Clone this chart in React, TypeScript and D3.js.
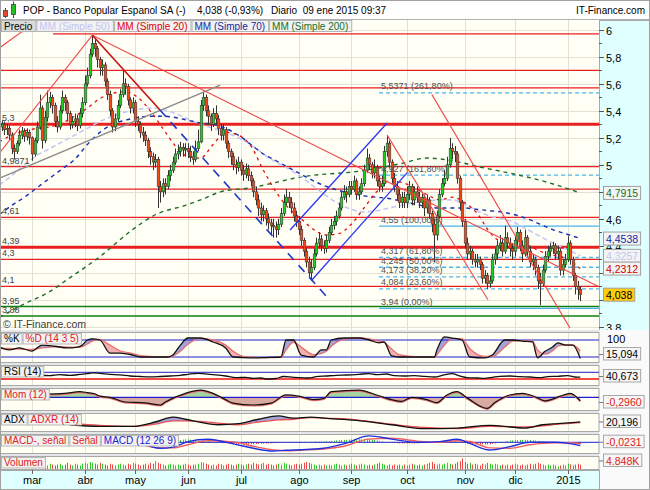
import { useEffect, useRef } from 'react';
import * as d3 from 'd3';

// market calendar (Madrid): weekdays minus exchange holidays
const holidays = ['2014-04-18', '2014-04-21', '2014-05-01', '2014-12-25', '2014-12-26', '2015-01-01'];
const monthStarts = ['2014-03-01', '2014-04-01', '2014-05-01', '2014-06-01', '2014-07-01', '2014-08-01',
  '2014-09-01', '2014-10-01', '2014-11-01', '2014-12-01', '2015-01-01'];
const monthLabels = ['mar', 'abr', 'may', 'jun', 'jul', 'ago', 'sep', 'oct', 'nov', 'dic', '2015'];

// daily prices, 12 feb 2014 -> 09 ene 2015
const closes = [
  5.28, 5.30, 5.26, 5.27, 5.22, 5.12, 5.10, 5.16, 5.22, 5.25, 5.21, 5.24, 5.20,
  5.08, 5.18, 5.28, 5.42, 5.18, 5.35, 5.46, 5.50, 5.44, 5.32, 5.28, 5.40, 5.50, 5.46, 5.38, 5.30, 5.32, 5.34, 5.29, 5.38, 5.46,
  5.60, 5.66, 5.82, 5.90, 5.86, 5.78, 5.72, 5.74, 5.62, 5.52, 5.40, 5.28, 5.34, 5.44, 5.52, 5.60, 5.58, 5.48, 5.42, 5.46,
  5.32, 5.30, 5.24, 5.22, 5.18, 5.10, 5.06, 5.02, 5.04, 4.84, 4.80, 4.86, 4.84, 4.92, 4.96, 5.02, 5.08, 5.10, 5.13, 5.11, 5.12,
  5.10, 5.06, 5.04, 5.12, 5.17, 5.44, 5.50, 5.40, 5.36, 5.30, 5.38, 5.34, 5.27, 5.22, 5.26, 5.16, 5.10, 5.06, 5.00, 4.98, 5.02,
  4.96, 4.93, 4.97, 4.92, 4.88, 4.80, 4.74, 4.68, 4.63, 4.66, 4.60, 4.57, 4.55, 4.54, 4.52, 4.56, 4.64, 4.72, 4.76, 4.72, 4.68, 4.62, 4.58,
  4.52, 4.44, 4.36, 4.28, 4.20, 4.24, 4.34, 4.42, 4.45, 4.40, 4.38, 4.44, 4.50, 4.55, 4.58, 4.62, 4.68, 4.76, 4.80, 4.78, 4.84,
  4.82, 4.88, 4.78, 4.80, 4.86, 4.96, 5.05, 5.00, 4.94, 4.98, 4.88, 4.84, 4.86, 5.10, 5.16, 5.02, 4.90, 4.84, 4.78, 4.72, 4.76, 4.72,
  4.78, 4.84, 4.74, 4.80, 4.76, 4.72, 4.76, 4.68, 4.74, 4.64, 4.56, 4.48, 4.62, 4.78, 4.86, 4.90, 5.00, 5.12, 5.10, 5.08, 4.90, 4.72, 4.58,
  4.42, 4.34, 4.36, 4.30, 4.28, 4.30, 4.26, 4.16, 4.18, 4.12, 4.14, 4.30, 4.34, 4.40, 4.42, 4.36, 4.46, 4.42, 4.38, 4.36,
  4.44, 4.50, 4.40, 4.34, 4.46, 4.36, 4.28, 4.30, 4.24, 4.14, 4.12, 4.22, 4.32, 4.36, 4.38, 4.40, 4.34, 4.36, 4.22, 4.26, 4.30,
  4.42, 4.30, 4.18, 4.10, 4.076, 4.038,
];
const highs = [
  5.32, 5.33, 5.32, 5.30, 5.29, 5.24, 5.15, 5.18, 5.26, 5.28, 5.27, 5.27, 5.26,
  5.21, 5.20, 5.32, 5.52, 5.44, 5.40, 5.55, 5.54, 5.52, 5.46, 5.36, 5.44, 5.55, 5.52, 5.48, 5.40, 5.36, 5.38, 5.37, 5.42, 5.50,
  5.66, 5.72, 5.86, 5.96, 5.93, 5.88, 5.80, 5.78, 5.76, 5.64, 5.55, 5.42, 5.38, 5.48, 5.56, 5.70, 5.64, 5.60, 5.50, 5.50,
  5.48, 5.36, 5.32, 5.28, 5.25, 5.20, 5.13, 5.09, 5.08, 5.06, 4.88, 4.90, 4.90, 4.96, 5.00, 5.06, 5.12, 5.15, 5.17, 5.16, 5.16,
  5.16, 5.14, 5.10, 5.18, 5.26, 5.48, 5.54, 5.52, 5.44, 5.38, 5.42, 5.44, 5.37, 5.30, 5.30, 5.28, 5.18, 5.12, 5.09, 5.04, 5.06,
  5.04, 5.00, 5.01, 5.00, 4.95, 4.90, 4.84, 4.78, 4.72, 4.70, 4.68, 4.64, 4.60, 4.60, 4.58, 4.60, 4.68, 4.78, 4.82, 4.80, 4.76, 4.72, 4.66,
  4.62, 4.55, 4.46, 4.38, 4.32, 4.30, 4.38, 4.46, 4.50, 4.48, 4.44, 4.48, 4.54, 4.60, 4.62, 4.66, 4.72, 4.80, 4.85, 4.84, 4.88,
  4.88, 4.92, 4.90, 4.84, 4.90, 5.00, 5.12, 5.08, 5.02, 5.04, 5.00, 4.92, 4.92, 5.14, 5.22, 5.18, 5.04, 4.94, 4.88, 4.82, 4.80, 4.80,
  4.84, 4.88, 4.86, 4.84, 4.84, 4.80, 4.80, 4.78, 4.78, 4.76, 4.66, 4.60, 4.66, 4.82, 4.90, 4.96, 5.06, 5.20, 5.16, 5.14, 5.10, 4.92, 4.74,
  4.60, 4.46, 4.40, 4.38, 4.34, 4.34, 4.32, 4.28, 4.22, 4.20, 4.18, 4.34, 4.38, 4.44, 4.48, 4.46, 4.55, 4.50, 4.46, 4.42,
  4.48, 4.54, 4.52, 4.44, 4.52, 4.48, 4.40, 4.34, 4.32, 4.26, 4.20, 4.26, 4.36, 4.40, 4.42, 4.43, 4.42, 4.40, 4.38, 4.30, 4.34,
  4.47, 4.44, 4.32, 4.20, 4.14, 4.10,
];
const lows = [
  5.24, 5.25, 5.22, 5.22, 5.18, 5.08, 5.04, 5.08, 5.14, 5.19, 5.17, 5.18, 5.15,
  5.03, 5.06, 5.16, 5.26, 5.12, 5.16, 5.32, 5.42, 5.38, 5.28, 5.24, 5.26, 5.38, 5.40, 5.32, 5.26, 5.27, 5.28, 5.25, 5.27, 5.35,
  5.44, 5.58, 5.64, 5.80, 5.80, 5.72, 5.66, 5.66, 5.58, 5.48, 5.36, 5.24, 5.25, 5.32, 5.42, 5.50, 5.52, 5.44, 5.38, 5.38,
  5.28, 5.25, 5.20, 5.17, 5.14, 5.05, 5.00, 4.96, 4.98, 4.68, 4.72, 4.76, 4.78, 4.82, 4.88, 4.94, 5.00, 5.04, 5.06, 5.06, 5.06,
  5.05, 5.02, 5.00, 5.02, 5.10, 5.16, 5.40, 5.36, 5.30, 5.25, 5.28, 5.30, 5.22, 5.18, 5.18, 5.12, 5.05, 5.00, 4.96, 4.93, 4.95,
  4.92, 4.88, 4.90, 4.88, 4.84, 4.76, 4.70, 4.62, 4.58, 4.58, 4.55, 4.52, 4.48, 4.46, 4.46, 4.48, 4.54, 4.62, 4.70, 4.68, 4.64, 4.58, 4.54,
  4.48, 4.40, 4.32, 4.24, 4.16, 4.14, 4.22, 4.32, 4.38, 4.36, 4.34, 4.35, 4.42, 4.48, 4.52, 4.55, 4.60, 4.66, 4.74, 4.72, 4.76,
  4.78, 4.80, 4.74, 4.74, 4.78, 4.84, 4.94, 4.96, 4.90, 4.90, 4.84, 4.80, 4.80, 4.84, 5.06, 4.98, 4.86, 4.80, 4.74, 4.68, 4.68, 4.68,
  4.68, 4.74, 4.70, 4.70, 4.72, 4.68, 4.68, 4.62, 4.64, 4.60, 4.50, 4.28, 4.44, 4.60, 4.76, 4.84, 4.88, 4.98, 5.04, 5.02, 4.86, 4.66, 4.54,
  4.38, 4.30, 4.30, 4.26, 4.24, 4.24, 4.22, 4.12, 4.12, 4.08, 4.09, 4.12, 4.26, 4.30, 4.36, 4.32, 4.34, 4.38, 4.32, 4.30,
  4.32, 4.40, 4.36, 4.28, 4.32, 4.32, 4.24, 4.22, 4.18, 4.08, 3.96, 4.10, 4.20, 4.28, 4.32, 4.34, 4.30, 4.30, 4.18, 4.18, 4.24,
  4.28, 4.26, 4.14, 4.04, 4.00, 3.99,
];
const firstOpen = 5.26;

// volume in K, starting on trading day 18
const volumeStart = 18;
const volumes = [
  5, 4, 6, 5, 4, 5, 6, 4, 5, 7, 5, 4, 6, 5, 4, 6, 7, 6, 8, 7,
  6, 5, 7, 6, 5, 4, 6, 5, 4, 5, 6, 5, 4, 6, 5, 7, 6, 5, 4, 5,
  6, 5, 7, 6, 9, 7, 6, 5, 4, 5, 6, 5, 4, 5, 4, 5, 6, 5, 4, 5,
  5, 6, 8, 7, 6, 5, 4, 5, 4, 6, 5, 4, 5, 6, 5, 4, 5, 6, 5, 4,
  5, 6, 5, 7, 6, 5, 6, 7, 5, 6, 5, 4, 5, 6, 5, 7, 6, 5, 4, 5,
  6, 5, 6, 7, 8, 7, 6, 5, 4, 5, 4, 5, 4, 5, 4, 5, 6, 5, 4, 5,
  4, 5, 6, 5, 4, 5, 6, 5, 4, 5, 4, 5, 6, 7, 6, 5, 4, 5, 4, 5,
  4, 5, 4, 5, 4, 5, 6, 5, 4, 5, 4, 5, 6, 7, 8, 6, 5, 6, 5, 6,
  7, 6, 5, 6, 8, 9, 12, 8, 6, 7, 5, 6, 5, 4, 6, 5, 7, 6, 5, 6,
  5, 4, 5, 4, 5, 4, 5, 6, 5, 4, 5, 4, 5, 6, 5, 6, 7, 6, 5, 4,
  5, 4, 5, 4, 3, 4, 5, 4, 6, 5, 4, 5, 6, 4.848,
];

// moving averages, [trading day, value]
const ma20 = [[0, 5.17], [5, 5.22], [10, 5.25], [15, 5.27], [20, 5.28], [25, 5.31], [30, 5.36], [35, 5.42], [40, 5.49], [45, 5.53],
  [50, 5.54], [55, 5.50], [60, 5.40], [65, 5.27], [70, 5.14], [75, 5.06], [80, 5.05], [85, 5.15], [90, 5.24], [95, 5.22],
  [100, 5.14], [105, 4.96], [110, 4.80], [115, 4.68], [120, 4.60], [125, 4.52], [130, 4.48], [135, 4.49], [140, 4.56], [145, 4.68],
  [150, 4.80], [155, 4.88], [160, 4.87], [165, 4.83], [170, 4.78], [175, 4.74], [180, 4.76], [185, 4.72], [190, 4.64], [195, 4.50],
  [200, 4.42], [205, 4.38], [210, 4.40], [215, 4.36], [220, 4.33], [225, 4.31], [231, 4.2312]];
const ma50 = [[0, 4.85], [5, 4.92], [10, 5.00], [15, 5.07], [20, 5.12], [25, 5.17], [30, 5.22], [35, 5.27], [40, 5.32], [45, 5.36],
  [50, 5.39], [55, 5.41], [60, 5.42], [65, 5.41], [70, 5.38], [75, 5.34], [80, 5.30], [85, 5.27], [90, 5.24], [95, 5.20],
  [100, 5.15], [105, 5.08], [110, 5.02], [115, 4.97], [120, 4.91], [125, 4.84], [130, 4.77], [135, 4.71], [140, 4.67], [145, 4.65],
  [150, 4.66], [155, 4.68], [160, 4.70], [165, 4.72], [170, 4.73], [175, 4.74], [180, 4.74], [185, 4.71], [190, 4.66], [195, 4.62],
  [200, 4.60], [205, 4.57], [210, 4.52], [215, 4.47], [220, 4.42], [225, 4.38], [231, 4.3257]];
const ma70 = [[0, 4.63], [5, 4.70], [10, 4.76], [15, 4.83], [20, 4.90], [25, 4.97], [30, 5.04], [35, 5.15], [40, 5.24], [45, 5.30],
  [50, 5.33], [55, 5.35], [60, 5.36], [65, 5.36], [70, 5.35], [75, 5.33], [80, 5.31], [85, 5.30], [90, 5.27], [95, 5.22],
  [100, 5.15], [105, 5.08], [110, 5.03], [115, 4.98], [120, 4.93], [125, 4.88], [130, 4.84], [135, 4.81], [140, 4.79], [145, 4.77],
  [150, 4.76], [155, 4.75], [160, 4.73], [165, 4.71], [170, 4.69], [175, 4.68], [180, 4.68], [185, 4.68], [190, 4.67], [195, 4.66],
  [200, 4.65], [205, 4.63], [210, 4.60], [215, 4.56], [220, 4.52], [225, 4.49], [231, 4.4538]];
const ma200 = [[0, 3.87], [10, 3.97], [20, 4.06], [27, 4.15], [40, 4.32], [53, 4.52], [62, 4.63], [74, 4.70], [80, 4.74], [88, 4.80],
  [100, 4.83], [120, 4.91], [146, 4.96], [160, 5.01], [170, 5.05], [180, 5.03], [192, 4.98], [205, 4.93], [218, 4.87], [231, 4.7915]];

// horizontal levels
const redLevels = [5.97, 5.70, 5.57, 5.30, 4.9871, 4.82, 4.61, 4.39, 4.30, 4.10];
const thickLevels = [5.30, 4.39];
const greenLevels = [3.95, 3.88];
const levelLabels = ['5,3', '4,9871', '4,61', '4,39', '4,3', '4,1', '3,95', '3,88'];
const levelLabelValues = [5.30, 4.9871, 4.61, 4.39, 4.30, 4.10, 3.95, 3.88];
const fibValues = [5.5371, 4.927, 4.55, 4.317, 4.245, 4.173, 4.084, 3.94];
const fibLabels = ['5,5371 (261,80%)', '4,927 (161,80%)', '4,55 (100,00%)', '4,317 (61,80%)', '4,245 (50,00%)',
  '4,173 (38,20%)', '4,084 (23,60%)', '3,94 (0,00%)'];
const fibStart = 151;

// trend lines [day0, price0, day1, price1]
const redTrends = [[0, 5.865, 16, 6.08], [0, 5.085, 37, 5.96], [37, 5.96, 238, 4.10], [154.2, 5.22, 194.3, 4.0], [172, 5.52, 226.9, 3.79]];
const peakTrend = [37, 5.96, 63.9, 5.406];
const dashTrend = [63.9, 5.406, 130.3, 4.02];
const channelTrends = [[115.6, 4.517, 154.2, 5.31], [124.3, 4.147, 162.1, 4.94]];
const grayTrend = [0, 4.90, 87.8, 5.59];

// stochastic 14 3 5
const stochIdx = [0, 4, 8, 13, 17, 22, 27, 31, 33, 35, 37, 40, 44, 48, 53, 56, 62, 67, 69, 72, 75, 80, 85, 90, 93, 97, 101, 106, 112, 114,
  117, 120, 125, 128, 130, 132, 137, 143, 147, 151, 153, 156, 159, 165, 173, 174, 177, 180, 184, 187, 193, 196, 201, 204, 208, 212,
  214, 217, 220, 222, 225, 228, 231];
const stochK = [55, 45, 52, 41, 62, 58, 52, 55, 62, 80, 84, 80, 34, 34, 27, 20, 20, 20, 27, 62, 87, 87, 73, 52, 20, 18, 17, 18, 20, 80,
  80, 27, 20, 45, 45, 80, 87, 87, 80, 70, 73, 24, 20, 20, 20, 45, 91, 87, 80, 20, 17, 27, 80, 80, 76, 73, 17, 40, 55, 70, 62, 62, 15];
const stochD = [50, 50, 48, 47, 52, 56, 55, 54, 57, 66, 76, 81, 62, 42, 32, 25, 21, 20, 23, 40, 65, 86, 80, 62, 40, 22, 19, 18, 19, 45,
  72, 55, 28, 32, 40, 58, 82, 87, 84, 76, 72, 48, 28, 21, 20, 28, 62, 85, 84, 50, 22, 22, 55, 76, 78, 76, 45, 30, 42, 58, 64, 63, 42];

// RSI 14
const rsiIdx = [16, 20, 24, 28, 32, 35, 37, 40, 44, 48, 52, 56, 60, 64, 68, 72, 75, 79, 82, 86, 90, 94, 98, 101, 104, 106, 110, 113, 117,
  120, 123, 126, 130, 134, 138, 143, 147, 150, 154, 157, 161, 165, 169, 173, 177, 180, 183, 186, 190, 193, 196, 199, 203, 207, 211,
  215, 218, 222, 226, 229, 231];
const rsi = [54, 50, 56, 52, 57, 62, 67, 64, 58, 55, 48, 45, 43, 45, 48, 52, 58, 64, 60, 55, 48, 38, 40, 34, 36, 30, 33, 45, 40,
  38, 36, 44, 48, 52, 54, 58, 62, 56, 60, 50, 48, 50, 46, 42, 55, 62, 48, 38, 36, 34, 40, 46, 48, 44, 42, 38, 44, 46, 50, 42, 40.673];

// momentum 12
const momIdx = [18, 26, 32, 35, 38, 40, 44, 50, 58, 64, 66, 74, 80, 85, 90, 93, 101, 108, 114, 119, 125, 129, 132, 143, 150, 156, 160,
  164, 170, 174, 178, 182, 186, 194, 197, 203, 208, 213, 217, 223, 227, 231];
const mom = [0.28, 0.34, 0.48, 0.40, 0.30, 0.10, 0.0, -0.40, -0.48, -0.66, -0.40, 0.34, 0.62, 0.34, -0.20, -0.50, -0.66, -0.50, 0.20, 0.10,
  -0.20, -0.10, 0.48, 0.62, 0.20, -0.20, -0.35, 0.0, -0.20, -0.45, 0.20, 0.48, -0.05, -0.94, -0.45, 0.20, 0.34, 0.05, -0.30, 0.10, 0.34, -0.296];

// ADX / ADXR 14
const adxIdx = [28, 40, 53, 62, 69, 74, 80, 87, 95, 103, 111, 117, 124, 129, 142, 156, 169, 182, 195, 209, 216, 222, 231];
const adx = [15, 12, 12, 20, 29, 25, 19.5, 15, 17, 25, 31, 27, 29, 27, 23, 15, 8, 9, 14, 9, 15, 17, 20.196];
const adxr = [18, 14, 12, 16, 22, 22, 21, 18, 15, 20, 24, 25, 28, 27, 24, 16, 10, 8, 12, 11, 13, 16, 19];

// MACD 12 26 9
const macdIdx = [57, 64, 69, 75, 83, 93, 101, 109, 114, 122, 129, 137, 147, 156, 166, 175, 182, 187, 195, 203, 211, 221, 226, 231];
const macd = [-0.013, -0.075, -0.06, 0.008, 0.038, -0.02, -0.075, -0.109, -0.1, -0.09, -0.075, -0.02, 0.08, 0.04, 0.0, 0.008, 0.038,
  -0.013, -0.096, -0.054, 0.0, 0.0, -0.013, -0.04];
const signal = [-0.03, -0.07, -0.07, -0.03, 0.02, 0.005, -0.05, -0.095, -0.105, -0.095, -0.085, -0.05, 0.04, 0.05, 0.015, 0.0, 0.02,
  0.01, -0.07, -0.075, -0.03, -0.005, -0.005, -0.017];
// histogram in thousandths, from day 57
const histStart = 57;
const macdHist = [
  17, 14, 10, 6, 2, -2, -4, -5, -2, 2, 6, 8, 10, 16, 22, 28, 34, 38, 36, 32,
  28, 24, 22, 20, 19, 18, 16, 12, 8, 4, 0, -4, -8, -12, -16, -20, -24, -26, -26, -25,
  -25, -25, -25, -25, -24, -22, -20, -18, -16, -15, -14, -14, -12, -8, -4, 0, 4, 5, 5, 5,
  5, 5, 5, 5, 5, 5, 6, 7, 8, 9, 10, 10, 12, 14, 16, 18, 20, 24, 27, 30,
  30, 32, 34, 36, 38, 40, 40, 40, 40, 40, 38, 34, 28, 22, 16, 10, 4, 0, -4, -8,
  -10, -12, -14, -15, -15, -15, -15, -15, -15, -15, -12, -10, -8, -6, -4, -2, 0, 4, 6, 8,
  10, 12, 14, 16, 18, 14, 6, -4, -12, -20, -23, -25, -26, -27, -28, -28, -27, -26, -26, -20,
  -14, -8, -2, 4, 10, 16, 21, 24, 26, 28, 30, 30, 30, 30, 30, 26, 22, 18, 14, 10,
  8, 6, 5, 5, 5, 5, 4, 0, -4, -8, -12, -16, -19, -21, -23,
];

// legend + last values
const legendNames = ['Precio', 'MM (Simple 50)', 'MM (Simple 20)', 'MM (Simple 70)', 'MM (Simple 200)'];
const legendColors = ['#000000', '#c4c4f2', '#e00000', '#1428a0', '#16701a'];
const lastValues = [4.7915, 4.4538, 4.3257, 4.2312, 4.038];
const lastTexts = ['4,7915', '4,4538', '4,3257', '4,2312', '4,038'];
const lastColors = ['#16701a', '#1428a0', '#c4c4f2', '#d00000', '#000000'];
const indicatorLast = ['15,094', '40,673', '-0,2960', '20,196', '-0,0231', '4.848K'];
const indicatorLastColors = ['#000', '#000', '#e02020', '#000', '#e02020', '#e02020'];

export default function App() {
  const svgRef = useRef<SVGSVGElement>(null);

  useEffect(() => {
    if (!svgRef.current) return;
    const svg = d3.select(svgRef.current);
    svg.selectAll('*').remove();

    const font = "'Liberation Sans', Arial, sans-serif";
    const W = 650, H = 490, PR = 599;
    const fmt = d3.timeFormat('%Y-%m-%d');
    const days = d3.timeDay.range(new Date(2014, 1, 12), new Date(2015, 0, 10))
      .filter(d => d.getDay() !== 0 && d.getDay() !== 6 && !holidays.includes(fmt(d)));
    const n = Math.min(days.length, closes.length);
    const monthIdx = monthStarts.map(s => days.findIndex(d => fmt(d) >= s));

    const x = d3.scaleLinear().domain([0, 238]).range([-0.7, 597.9]);
    const y = d3.scaleLinear().domain([3.8, 6]).range([326.8, 29.8]);
    const opens = closes.map((c, i) => (i === 0 ? firstOpen : closes[i - 1]));

    const defs = svg.append('defs');
    const clip = (id: string, x0: number, y0: number, w: number, h: number) => {
      defs.append('clipPath').attr('id', id).append('rect').attr('x', x0).attr('y', y0).attr('width', w).attr('height', h);
      return `url(#${id})`;
    };

    // frame
    svg.append('rect').attr('width', W).attr('height', H).attr('fill', '#e4e6e8');
    svg.append('rect').attr('x', 0).attr('y', 0).attr('width', W).attr('height', 19).attr('fill', '#fff');
    svg.append('line').attr('x1', 0).attr('x2', W).attr('y1', 19.5).attr('y2', 19.5).attr('stroke', '#b0b0b0');

    // title
    const ic = svg.append('g');
    ic.append('line').attr('x1', 5.5).attr('x2', 5.5).attr('y1', 8).attr('y2', 18).attr('stroke', '#444');
    ic.append('rect').attr('x', 3.5).attr('y', 10.5).attr('width', 4).attr('height', 6).attr('fill', '#e04a30').attr('stroke', '#444').attr('stroke-width', 0.8);
    ic.append('line').attr('x1', 13.5).attr('x2', 13.5).attr('y1', 1.5).attr('y2', 18).attr('stroke', '#444');
    ic.append('rect').attr('x', 11.5).attr('y', 4.5).attr('width', 4).attr('height', 10).attr('fill', '#22c022').attr('stroke', '#444').attr('stroke-width', 0.8);
    const title = svg.append('g').attr('font-family', font).attr('font-size', 10).attr('fill', '#000');
    title.append('text').attr('x', 23).attr('y', 14).text('POP - Banco Popular Espanol SA (-)');
    title.append('text').attr('x', 197).attr('y', 14).text('4,038 (-0,93%)');
    title.append('text').attr('x', 271).attr('y', 14).text('Diario  09 ene 2015 09:37').style('white-space', 'pre');
    title.append('text').attr('x', 645).attr('y', 14).attr('text-anchor', 'end').text('IT-Finance.com');

    // ---------- main price panel ----------
    const main = svg.append('g');
    main.append('rect').attr('x', 0).attr('y', 20).attr('width', PR).attr('height', 310).attr('fill', '#fffff6');
    const plot = main.append('g').attr('clip-path', clip('clip-main', 0, 20, PR, 310));

    monthIdx.forEach(i => {
      plot.append('line').attr('x1', Math.round(x(i)) + 0.5).attr('x2', Math.round(x(i)) + 0.5).attr('y1', 20).attr('y2', 330)
        .attr('stroke', '#e2e2d4');
    });
    d3.range(3.8, 6.05, 0.2).forEach(v => {
      plot.append('line').attr('x1', 0).attr('x2', PR).attr('y1', Math.round(y(v)) + 0.5).attr('y2', Math.round(y(v)) + 0.5)
        .attr('stroke', '#e2e2d4');
    });

    redLevels.forEach(v => {
      const thick = thickLevels.includes(v);
      plot.append('line').attr('x1', v > 5.9 ? 53 : 0).attr('x2', PR).attr('y1', y(v)).attr('y2', y(v))
        .attr('stroke', '#e82020').attr('stroke-width', thick ? 3 : 1.3);
    });
    greenLevels.forEach(v => {
      plot.append('line').attr('x1', 0).attr('x2', PR).attr('y1', y(v)).attr('y2', y(v))
        .attr('stroke', '#108010').attr('stroke-width', 1.5);
    });

    // fibonacci
    fibValues.forEach((v, k) => {
      const solid = fibLabels[k].includes('(100,00%)') || fibLabels[k].includes('(0,00%)');
      plot.append('line').attr('x1', x(fibStart)).attr('x2', PR).attr('y1', y(v) + 0.5).attr('y2', y(v) + 0.5)
        .attr('stroke', '#48b4f0').attr('stroke-width', 1.3).attr('stroke-dasharray', solid ? null : '4,3');
    });

    // moving averages
    const maLine = d3.line<number[]>().x(d => x(d[0])).y(d => y(d[1])).curve(d3.curveMonotoneX);
    const drawMa = (data: number[][], color: string, w: number, dash: string) => {
      plot.append('path').attr('d', maLine(data)).attr('fill', 'none').attr('stroke', color)
        .attr('stroke-width', w).attr('stroke-dasharray', dash);
    };
    drawMa(ma200, '#1c6e24', 1.4, '4,4');
    drawMa(ma50, '#c6c6f4', 1.6, '5,3');
    drawMa(ma70, '#1830b0', 1.4, '4,4');
    drawMa(ma20, '#e01010', 1.3, '3,4');

    // candles
    const cg = plot.append('g');
    for (let i = 0; i < n; i++) {
      const cx = Math.round(x(i)) + 0.5;
      const up = closes[i] >= opens[i];
      cg.append('line').attr('x1', cx).attr('x2', cx).attr('y1', y(highs[i])).attr('y2', y(lows[i]))
        .attr('stroke', '#333').attr('stroke-width', 1);
      const top = y(Math.max(opens[i], closes[i]));
      const bot = y(Math.min(opens[i], closes[i]));
      cg.append('rect').attr('x', cx - 1.3).attr('y', top).attr('width', 2.6).attr('height', Math.max(1, bot - top))
        .attr('fill', up ? '#22cc22' : '#f04818').attr('stroke', '#3a3a3a').attr('stroke-width', 0.6);
    }

    // trend lines
    const seg = (t: number[], color: string, w: number, dash?: string) => {
      plot.append('line').attr('x1', x(t[0])).attr('y1', y(t[1])).attr('x2', x(t[2])).attr('y2', y(t[3]))
        .attr('stroke', color).attr('stroke-width', w).attr('stroke-dasharray', dash ?? null);
    };
    seg(grayTrend, '#8a8a8a', 1.5);
    redTrends.forEach(t => seg(t, '#ee4a4a', 1.1));
    seg(peakTrend, '#c81010', 1.6);
    seg(dashTrend, '#2038c8', 1.6, '9,7');
    channelTrends.forEach(t => seg(t, '#2a36f0', 1.3));

    // fib labels
    fibValues.forEach((v, k) => {
      plot.append('text').attr('x', x(fibStart) + 2).attr('y', y(v) - 3).attr('font-family', font).attr('font-size', 9)
        .attr('fill', '#505050').text(fibLabels[k]);
    });
    // level labels
    levelLabelValues.forEach((v, k) => {
      plot.append('text').attr('x', 2).attr('y', y(v) - 3).attr('font-family', font).attr('font-size', 9)
        .attr('fill', '#404040').text(levelLabels[k]);
    });
    plot.append('text').attr('x', 3).attr('y', 328).attr('font-family', font).attr('font-size', 10.5)
      .attr('fill', '#404040').text('© IT-Finance.com');

    // legend
    let lx = 1;
    legendNames.forEach((name, k) => {
      const r = main.append('rect').attr('x', lx + 0.5).attr('y', 20.5).attr('height', 11).attr('fill', k === 0 ? '#dadada' : '#f2f2f2')
        .attr('stroke', '#b4b4b4');
      const t = main.append('text').attr('x', lx + 3).attr('y', 29.5).attr('font-family', font).attr('font-size', 10)
        .attr('fill', legendColors[k]).text(name);
      const w = (t.node() as SVGTextElement).getComputedTextLength() + 6;
      r.attr('width', w);
      lx += w + 1;
    });

    // right axis
    const ax = svg.append('g');
    ax.append('rect').attr('x', PR + 0.5).attr('y', 20.5).attr('width', W - PR - 1).attr('height', 310).attr('fill', '#e0ffff')
      .attr('stroke', '#a8a8a8');
    d3.range(3.8, 6.05, 0.1).forEach((v, k) => {
      const yy = Math.round(y(v)) + 0.5;
      ax.append('line').attr('x1', PR).attr('x2', PR + (k % 2 === 0 ? 5 : 3)).attr('y1', yy).attr('y2', yy).attr('stroke', '#555');
      // labels that sit mostly under a last-value box are not drawn
      const covered = lastValues.some(lv => Math.abs(y(lv) - yy) < 6.5);
      if (k % 2 === 0 && !covered) {
        ax.append('text').attr('x', PR + 7).attr('y', yy + 4).attr('font-family', font).attr('font-size', 11)
          .attr('fill', '#000').text(String(+v.toFixed(1)).replace('.', ','));
      }
    });
    lastValues.forEach((v, k) => {
      const isClose = k === lastValues.length - 1;
      const r = ax.append('rect').attr('x', PR + 4.5).attr('y', y(v) - 6.5).attr('height', 13)
        .attr('fill', isClose ? '#ffcc10' : '#f4f4f4').attr('stroke', '#a0a0a0');
      const t = ax.append('text').attr('x', PR + 7).attr('y', y(v) + 4).attr('font-family', font).attr('font-size', 10.5)
        .attr('fill', lastColors[k]).text(lastTexts[k]);
      r.attr('width', (t.node() as SVGTextElement).getComputedTextLength() + 5);
    });

    // ---------- indicator panels ----------
    const panels = [[332, 362], [365, 385], [388, 410], [413, 431], [434, 453], [456, 469]];
    svg.append('rect').attr('x', PR).attr('y', 330).attr('width', W - PR).attr('height', 160).attr('fill', '#fafafa');
    panels.forEach(([t, b]) => {
      svg.append('rect').attr('x', 0.5).attr('y', t + 0.5).attr('width', PR - 0.5).attr('height', b - t).attr('fill', '#fffff4')
        .attr('stroke', '#a8a8a8');
      monthIdx.forEach(i => {
        svg.append('line').attr('x1', Math.round(x(i)) + 0.5).attr('x2', Math.round(x(i)) + 0.5).attr('y1', t + 1).attr('y2', b)
          .attr('stroke', '#e4e4d6');
      });
    });
    const curve = d3.curveMonotoneX;
    const pLine = (idx: number[], vals: number[], sc: d3.ScaleLinear<number, number>) =>
      d3.line<number>().x((_, k) => x(idx[k])).y(v => sc(v)).curve(curve)(vals);

    // two-colour fill between series a and b (a above b -> colA)
    const bandFill = (g: d3.Selection<SVGGElement, unknown, null, undefined>, id: string, idx: number[], a: number[], b: number[],
      sc: d3.ScaleLinear<number, number>, top: number, bottom: number, colA: string, colB: string) => {
      const area = d3.area<number>().x((_, k) => x(idx[k])).y0((_, k) => sc(b[k])).y1(v => sc(v)).curve(curve);
      const above = d3.area<number>().x((_, k) => x(idx[k])).y0(top).y1(v => sc(v)).curve(curve);
      const below = d3.area<number>().x((_, k) => x(idx[k])).y0(bottom).y1(v => sc(v)).curve(curve);
      defs.append('clipPath').attr('id', id + 'a').append('path').attr('d', above(b));
      defs.append('clipPath').attr('id', id + 'b').append('path').attr('d', below(b));
      g.append('path').attr('d', area(a)).attr('fill', colA).attr('clip-path', `url(#${id}a)`);
      g.append('path').attr('d', area(a)).attr('fill', colB).attr('clip-path', `url(#${id}b)`);
    };

    // stochastic
    const [s0, s1] = panels[0];
    const gs = svg.append('g').attr('clip-path', clip('clip-st', 1, s0 + 1, PR - 1, s1 - s0 - 1));
    const yS = d3.scaleLinear().domain([20, 80]).range([357, 340]);
    bandFill(gs, 'st', stochIdx, stochK, stochD, yS, s0, s1, '#a4a4dc', '#f2b0b0');
    [80, 20].forEach(v => gs.append('line').attr('x1', 0).attr('x2', PR).attr('y1', yS(v)).attr('y2', yS(v)).attr('stroke', '#2020d0'));
    gs.append('path').attr('d', pLine(stochIdx, stochD, yS)).attr('fill', 'none').attr('stroke', '#e87070').attr('stroke-width', 1.3);
    gs.append('path').attr('d', pLine(stochIdx, stochK, yS)).attr('fill', 'none').attr('stroke', '#111').attr('stroke-width', 1.3);

    // RSI
    const [r0, r1] = panels[1];
    const gr = svg.append('g').attr('clip-path', clip('clip-rsi', 1, r0 + 1, PR - 1, r1 - r0 - 1));
    const yR = d3.scaleLinear().domain([30, 70]).range([379, 372.3]);
    gr.append('line').attr('x1', 0).attr('x2', PR).attr('y1', yR(70)).attr('y2', yR(70)).attr('stroke', '#2020d0');
    gr.append('line').attr('x1', 0).attr('x2', PR).attr('y1', yR(30)).attr('y2', yR(30)).attr('stroke', '#f01010').attr('stroke-width', 1.3);
    gr.append('path').attr('d', pLine(rsiIdx, rsi, yR)).attr('fill', 'none').attr('stroke', '#111').attr('stroke-width', 1.3);

    // momentum
    const [m0, m1] = panels[2];
    const gm = svg.append('g').attr('clip-path', clip('clip-mom', 1, m0 + 1, PR - 1, m1 - m0 - 1));
    const yM = d3.scaleLinear().domain([0, 1]).range([397.3, 385.6]);
    const zeroArr = mom.map(() => 0);
    bandFill(gm, 'mo', momIdx, mom, zeroArr, yM, m0, m1, '#a6d4a0', '#d8aaa0');
    gm.append('line').attr('x1', 0).attr('x2', PR).attr('y1', yM(0)).attr('y2', yM(0)).attr('stroke', '#2020d0').attr('stroke-width', 1.2);
    gm.append('path').attr('d', pLine(momIdx, mom, yM)).attr('fill', 'none').attr('stroke', '#e87070').attr('stroke-width', 1.6)
      .attr('transform', 'translate(0,0.8)');
    gm.append('path').attr('d', pLine(momIdx, mom, yM)).attr('fill', 'none').attr('stroke', '#111').attr('stroke-width', 1.2);

    // ADX
    const [a0, a1] = panels[3];
    const ga = svg.append('g').attr('clip-path', clip('clip-adx', 1, a0 + 1, PR - 1, a1 - a0 - 1));
    const yA = d3.scaleLinear().domain([0, 40]).range([433, 411]);
    bandFill(ga, 'ad', adxIdx, adx, adxr, yA, a0, a1, '#a4a4dc', '#f2b0b0');
    ga.append('path').attr('d', pLine(adxIdx, adxr, yA)).attr('fill', 'none').attr('stroke', '#e85050').attr('stroke-width', 1.3);
    ga.append('path').attr('d', pLine(adxIdx, adx, yA)).attr('fill', 'none').attr('stroke', '#111').attr('stroke-width', 1.3);

    // MACD
    const [c0, c1] = panels[4];
    const gc = svg.append('g').attr('clip-path', clip('clip-macd', 1, c0 + 1, PR - 1, c1 - c0 - 1));
    const yC = d3.scaleLinear().domain([0, 0.1]).range([442.3, 434.3]);
    macdHist.forEach((h, k) => {
      const cx = Math.round(x(histStart + k)) + 0.5;
      gc.append('line').attr('x1', cx).attr('x2', cx).attr('y1', yC(0)).attr('y2', yC(h / 1000))
        .attr('stroke', h >= 0 ? '#30cc30' : '#f04040').attr('stroke-width', 1);
    });
    gc.append('line').attr('x1', 0).attr('x2', PR).attr('y1', yC(0)).attr('y2', yC(0)).attr('stroke', '#2020d0');
    gc.append('path').attr('d', pLine(macdIdx, signal, yC)).attr('fill', 'none').attr('stroke', '#f06060').attr('stroke-width', 1.4);
    gc.append('path').attr('d', pLine(macdIdx, macd, yC)).attr('fill', 'none').attr('stroke', '#2030e0').attr('stroke-width', 1.4);

    // volume
    const [v0, v1] = panels[5];
    const gv = svg.append('g').attr('clip-path', clip('clip-vol', 1, v0 + 1, PR - 1, v1 - v0 - 1));
    const yV = d3.scaleLinear().domain([0, 13]).range([v1, 457.5]);
    volumes.forEach((v, k) => {
      const i = volumeStart + k;
      const cx = Math.round(x(i)) + 0.5;
      gv.append('line').attr('x1', cx).attr('x2', cx).attr('y1', yV(0)).attr('y2', yV(v))
        .attr('stroke', closes[i] >= opens[i] ? '#30cc30' : '#f04848').attr('stroke-width', 1);
    });

    // panel labels
    const panelLabels: [number, string, string][][] = [
      [[0, '%K', '#000'], [0, '%D (14 3 5)', '#e02020']],
      [[1, 'RSI (14)', '#000']],
      [[2, 'Mom (12)', '#e02020']],
      [[3, 'ADX', '#000'], [3, 'ADXR (14)', '#e02020']],
      [[4, 'MACD-, señal', '#e02020'], [4, 'Señal', '#e02020'], [4, 'MACD (12 26 9)', '#2020d0']],
      [[5, 'Volumen', '#e02020']],
    ];
    panelLabels.forEach(row => {
      let px = 1;
      row.forEach(([p, txt, col]) => {
        const top = panels[p][0] + 1.5;
        const r = svg.append('rect').attr('x', px + 0.5).attr('y', top).attr('height', 10.5).attr('fill', '#f2f2f2').attr('stroke', '#b8b8b8');
        const t = svg.append('text').attr('x', px + 3).attr('y', top + 8.8).attr('font-family', font).attr('font-size', 10)
          .attr('fill', col).text(txt);
        const w = (t.node() as SVGTextElement).getComputedTextLength() + 5;
        r.attr('width', w);
        px += w + 1;
      });
    });

    // indicator right labels
    svg.append('text').attr('x', PR + 8).attr('y', 343).attr('font-family', font).attr('font-size', 11).text('100');
    const indY = [354, 376, 402, 421.5, 441.7, 460.5];
    indicatorLast.forEach((txt, k) => {
      svg.append('line').attr('x1', PR).attr('x2', PR + 4).attr('y1', indY[k] + 0.5).attr('y2', indY[k] + 0.5).attr('stroke', '#777');
      const r = svg.append('rect').attr('x', PR + 4.5).attr('y', indY[k] - 6.5).attr('height', 12.5).attr('fill', '#f6f6f6').attr('stroke', '#a8a8a8');
      const t = svg.append('text').attr('x', PR + 7).attr('y', indY[k] + 4).attr('font-family', font).attr('font-size', 10.5)
        .attr('fill', indicatorLastColors[k]).text(txt);
      r.attr('width', (t.node() as SVGTextElement).getComputedTextLength() + 5);
    });

    // x axis
    const xa = svg.append('g');
    xa.append('rect').attr('x', 0.5).attr('y', 470.5).attr('width', PR).attr('height', 19).attr('fill', '#e0ffff').attr('stroke', '#a8a8a8');
    monthIdx.forEach((i, k) => {
      const cx = Math.round(x(i)) + 0.5;
      xa.append('line').attr('x1', cx).attr('x2', cx).attr('y1', 470).attr('y2', 474).attr('stroke', '#666');
      xa.append('text').attr('x', cx).attr('y', 484).attr('text-anchor', 'middle').attr('font-family', font).attr('font-size', 11)
        .attr('fill', '#000').text(monthLabels[k]);
    });

    svg.append('rect').attr('x', 0.5).attr('y', 0.5).attr('width', W - 1).attr('height', H - 1).attr('fill', 'none').attr('stroke', '#a0a0a0');
  }, []);

  return <svg ref={svgRef} width={650} height={490} style={{ position: 'absolute', left: 0, top: 0 }} />;
}
